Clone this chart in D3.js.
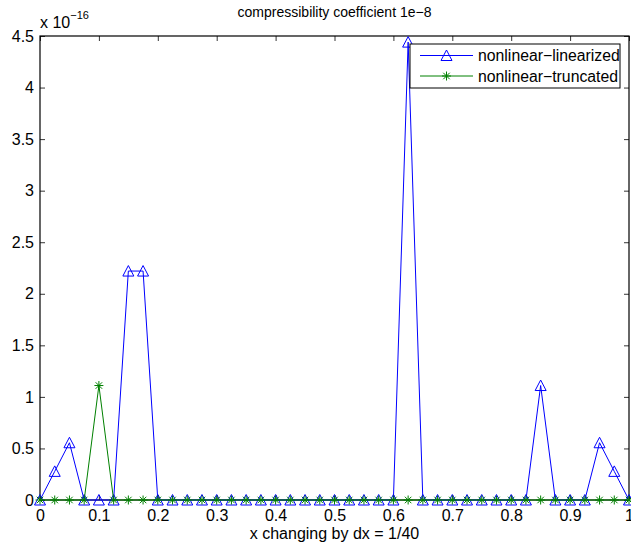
<!doctype html>
<html lang="en">
<head>
<meta charset="utf-8">
<title>compressibility coefficient 1e-8</title>
<script src="https://cdn.jsdelivr.net/npm/d3@7"></script>
<style>
  body { margin: 0; background: #fff; }
  text { font-family: "Liberation Sans", Arial, Helvetica, sans-serif; }
</style>
</head>
<body>
<script>
// data, in units of 1e-16, sampled every dx = 1/40
var xTicks = [0, 0.1, 0.2, 0.3, 0.4, 0.5, 0.6, 0.7, 0.8, 0.9, 1];
var yTicks = [0, 0.5, 1, 1.5, 2, 2.5, 3, 3.5, 4, 4.5];
var xValues = [0, 0.025, 0.05, 0.075, 0.1, 0.125, 0.15, 0.175, 0.2, 0.225,
               0.25, 0.275, 0.3, 0.325, 0.35, 0.375, 0.4, 0.425, 0.45, 0.475,
               0.5, 0.525, 0.55, 0.575, 0.6, 0.625, 0.65, 0.675, 0.7, 0.725,
               0.75, 0.775, 0.8, 0.825, 0.85, 0.875, 0.9, 0.925, 0.95, 0.975, 1];
var linearized = [0, 0.2776, 0.5551, 0, 0, 0, 2.2204, 2.2204, 0, 0,
                  0, 0, 0, 0, 0, 0, 0, 0, 0, 0,
                  0, 0, 0, 0, 0, 4.4409, 0, 0, 0, 0,
                  0, 0, 0, 0, 1.1102, 0, 0, 0, 0.5551, 0.2776, 0];
var truncated = [0, 0, 0, 0, 1.1102, 0, 0, 0, 0, 0,
                 0, 0, 0, 0, 0, 0, 0, 0, 0, 0,
                 0, 0, 0, 0, 0, 0, 0, 0, 0, 0,
                 0, 0, 0, 0, 0, 0, 0, 0, 0, 0, 0];
var seriesNames = ["nonlinear\u2212linearized", "nonlinear\u2212truncated"];
var seriesColors = ["#0000ff", "#008000"];

var W = 631, H = 544;
var mLeft = 40, mRight = 629, mTop = 36, mBottom = 500;

var svg = d3.select("body").append("svg")
    .attr("width", W).attr("height", H);

var x = d3.scaleLinear().domain([0, 1]).range([mLeft, mRight]);
var y = d3.scaleLinear().domain([0, 4.5]).range([mBottom, mTop]);

// axes box with inward ticks on all sides
var tl = 5;
svg.append("g").attr("transform", "translate(0," + mBottom + ")")
    .call(d3.axisBottom(x).tickValues(xTicks).tickSize(-tl).tickPadding(10).tickFormat(d3.format("")));
svg.append("g").attr("transform", "translate(0," + mTop + ")")
    .call(d3.axisTop(x).tickValues(xTicks).tickSize(-tl).tickFormat(""));
svg.append("g").attr("transform", "translate(" + mLeft + ",0)")
    .call(d3.axisLeft(y).tickValues(yTicks).tickSize(-tl).tickPadding(6).tickFormat(d3.format("")));
svg.append("g").attr("transform", "translate(" + mRight + ",0)")
    .call(d3.axisRight(y).tickValues(yTicks).tickSize(-tl).tickFormat(""));
svg.selectAll(".domain").remove();
svg.selectAll(".tick line").attr("stroke", "#000").attr("stroke-width", 0.8);
svg.selectAll(".tick text").attr("fill", "#000").style("font-size", "16px")
    .style("font-family", "'Liberation Sans', Arial, sans-serif");
svg.append("rect")
    .attr("x", mLeft).attr("y", mTop).attr("width", mRight - mLeft).attr("height", mBottom - mTop)
    .attr("fill", "none").attr("stroke", "#000").attr("stroke-width", 1.2);

// exponent label
var ex = svg.append("text").attr("x", mLeft).attr("y", 28).style("font-size", "16px");
ex.append("tspan").text("x 10");
ex.append("tspan").attr("dy", -9).style("font-size", "11px").text("\u221216");

// title and x label
svg.append("text").attr("x", (mLeft + mRight) / 2).attr("y", 17)
    .attr("text-anchor", "middle").style("font-size", "14px")
    .text("compressibility coefficient 1e\u22128");
svg.append("text").attr("x", (mLeft + mRight) / 2).attr("y", 539)
    .attr("text-anchor", "middle").style("font-size", "16px")
    .text("x changing by dx = 1/40");

function triangle(g, cx, cy, color) {
    g.append("path")
        .attr("d", "M" + cx + "," + (cy - 5.5) + " L" + (cx + 5.5) + "," + (cy + 5) +
              " L" + (cx - 5.5) + "," + (cy + 5) + " Z")
        .attr("fill", "none").attr("stroke", color).attr("stroke-width", 1);
}
function star(g, cx, cy, color) {
    var r = 4.5, d = r * 0.72;
    g.append("path")
        .attr("d", "M" + (cx - r) + "," + cy + " H" + (cx + r) +
              " M" + cx + "," + (cy - r) + " V" + (cy + r) +
              " M" + (cx - d) + "," + (cy - d) + " L" + (cx + d) + "," + (cy + d) +
              " M" + (cx - d) + "," + (cy + d) + " L" + (cx + d) + "," + (cy - d))
        .attr("fill", "none").attr("stroke", color).attr("stroke-width", 1);
}

var line = d3.line().x(function (d) { return x(d[0]); }).y(function (d) { return y(d[1]); });
var series = [linearized, truncated];
var markers = [triangle, star];

series.forEach(function (vals, k) {
    var pts = xValues.map(function (v, i) { return [v, vals[i]]; });
    var g = svg.append("g");
    g.append("path").datum(pts).attr("d", line)
        .attr("fill", "none").attr("stroke", seriesColors[k]).attr("stroke-width", 1);
    pts.forEach(function (p) { markers[k](g, x(p[0]), y(p[1]), seriesColors[k]); });
});

// legend
var lg = svg.append("g");
lg.append("rect").attr("x", 410).attr("y", 44).attr("width", 210).attr("height", 44)
    .attr("fill", "#fff").attr("stroke", "#000").attr("stroke-width", 1);
[55.5, 76].forEach(function (ly, k) {
    lg.append("line").attr("x1", 420).attr("x2", 473).attr("y1", ly).attr("y2", ly)
        .attr("stroke", seriesColors[k]).attr("stroke-width", 1);
    markers[k](lg, 446.5, ly, seriesColors[k]);
    lg.append("text").attr("x", 478).attr("y", ly + 5.5).style("font-size", "15.8px")
        .text(seriesNames[k]);
});
</script>
</body>
</html>
